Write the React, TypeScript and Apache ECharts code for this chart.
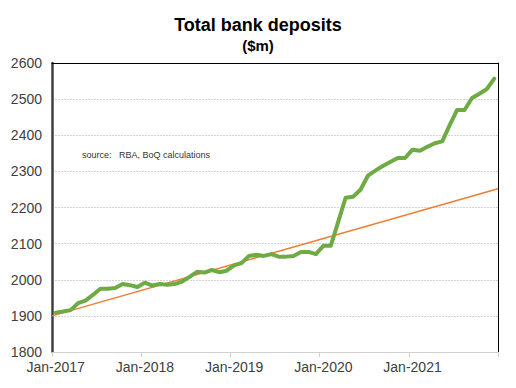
import React, { useEffect, useRef } from "react";
import * as echarts from "echarts";

const startYear = 2017;
const monthNames = ["Jan","Feb","Mar","Apr","May","Jun","Jul","Aug","Sep","Oct","Nov","Dec"];
const categories: string[] = [];
for (let y = startYear; y <= 2021; y++) for (const m of monthNames) categories.push(`${m}-${y}`);

const deposits = [
  1909, 1912, 1916, 1935, 1942, 1958, 1975, 1975, 1977, 1988, 1985, 1980,
  1992, 1984, 1988, 1986, 1988, 1995, 2008, 2022, 2020, 2027, 2021, 2025,
  2040, 2046, 2066, 2069, 2066, 2071, 2064, 2064, 2066, 2077, 2077, 2071,
  2094, 2094, 2160, 2227, 2230, 2249, 2288, 2302, 2315, 2326, 2337, 2337,
  2360, 2357, 2368, 2378, 2383, 2428, 2470, 2470, 2503, 2515, 2528, 2557,
];

// trend line: [month offset from Jan-2017, value]
const trend = [
  [0, 1900],
  [60, 2252],
];

const yTicks = { min: 1800, max: 2600, interval: 100 };

export default function App() {
  const ref = useRef<HTMLDivElement>(null);
  useEffect(() => {
    if (!ref.current) return;
    const chart = echarts.init(ref.current, null, { renderer: "svg" });
    const font = "Liberation Sans, Arial, sans-serif";
    chart.setOption({
      animation: false,
      backgroundColor: "#ffffff",
      title: [
        {
          text: "Total bank deposits",
          left: "center",
          top: 16,
          padding: 0,
          textStyle: { fontFamily: font, fontSize: 18, fontWeight: "bold", color: "#000" },
        },
        {
          text: "($m)",
          left: "center",
          top: 38,
          padding: 0,
          textStyle: { fontFamily: font, fontSize: 15, fontWeight: "bold", color: "#000" },
        },
        {
          text: "source:\u00a0\u00a0\u00a0RBA, BoQ calculations",
          left: 82,
          top: 150,
          padding: 0,
          textStyle: { fontFamily: font, fontSize: 9, fontWeight: "normal", color: "#333" },
        },
      ],
      grid: { left: 52, right: 18, top: 63, bottom: 36, containLabel: false },
      xAxis: [
        {
          type: "category",
          data: categories,
          boundaryGap: true,
          axisLine: { show: true, lineStyle: { color: "#d0d0d0", width: 1 } },
          axisTick: { show: true, interval: 11, length: 5, lineStyle: { color: "#d0d0d0" } },
          axisLabel: {
            interval: 11,
            margin: 8,
            fontFamily: font,
            fontSize: 14,
            color: "#404040",
          },
          splitLine: { show: false },
        },
        {
          type: "value",
          min: 0,
          max: 60,
          position: "top",
          axisLine: { show: true, onZero: false, lineStyle: { color: "#000", width: 1 } },
          axisTick: { show: false },
          axisLabel: { show: false },
          splitLine: { show: false },
        },
      ],
      yAxis: [
        {
          type: "value",
          min: yTicks.min,
          max: yTicks.max,
          interval: yTicks.interval,
          axisLine: { show: true, onZero: false, lineStyle: { color: "#404040", width: 2.5 } },
          axisTick: { show: false },
          axisLabel: {
            margin: 10,
            fontFamily: font,
            fontSize: 14,
            color: "#404040",
            formatter: (v: number) => String(v),
          },
          splitLine: { show: true, lineStyle: { color: "#d4d4d4", type: [2, 1], width: 1 } },
        },
        {
          type: "value",
          min: yTicks.min,
          max: yTicks.max,
          interval: yTicks.interval,
          position: "right",
          axisLine: { show: true, onZero: false, lineStyle: { color: "#000", width: 1 } },
          axisTick: { show: false },
          axisLabel: { show: false },
          splitLine: { show: false },
        },
      ],
      series: [
        {
          name: "Trend",
          type: "line",
          xAxisIndex: 1,
          yAxisIndex: 0,
          data: trend,
          symbol: "none",
          lineStyle: { color: "#ED7D31", width: 1.5 },
          z: 2,
        },
        {
          name: "Deposits",
          type: "line",
          xAxisIndex: 0,
          yAxisIndex: 0,
          data: deposits,
          symbol: "none",
          lineStyle: { color: "#6EAB45", width: 4, join: "round", cap: "round" },
          z: 3,
        },
      ],
    });
    return () => chart.dispose();
  }, []);
  return (
    <div
      ref={ref}
      style={{ position: "fixed", left: 0, top: 0, width: 516, height: 388 }}
    />
  );
}
